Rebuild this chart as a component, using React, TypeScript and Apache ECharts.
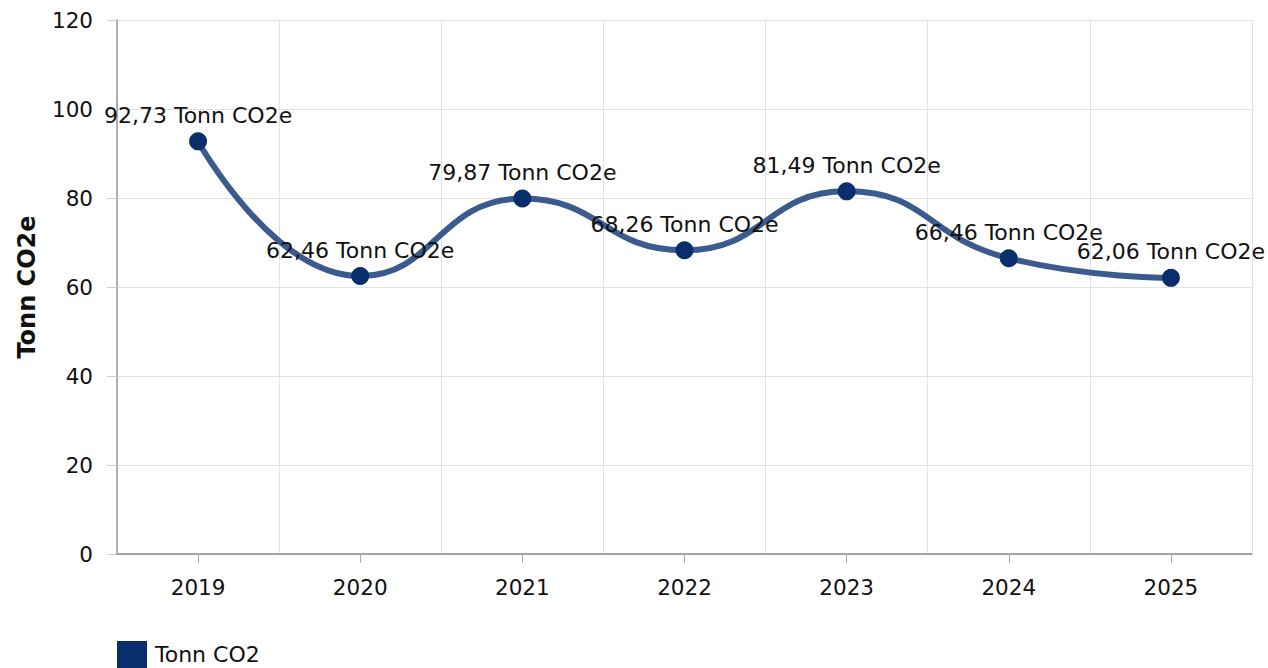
import React, { useEffect, useRef } from "react";
import * as echarts from "echarts";

const years = ["2019", "2020", "2021", "2022", "2023", "2024", "2025"];
const emissions = [92.73, 62.46, 79.87, 68.26, 81.49, 66.46, 62.06];
const seriesName = "Tonn CO2";
const unit = "Tonn CO2e";
const yTicks = { min: 0, max: 120, interval: 20 };

const FONT = "DejaVu Sans, Verdana, sans-serif";

export default function App() {
  const ref = useRef<HTMLDivElement>(null);
  useEffect(() => {
    if (!ref.current) return;
    const chart = echarts.init(ref.current, undefined, { renderer: "svg" });
    chart.setOption({
      animation: false,
      textStyle: { fontFamily: FONT },
      grid: {
        left: 117,
        right: 16,
        top: 20,
        bottom: 114,
        containLabel: false,
        outerBoundsMode: "none",
      },
      legend: {
        left: 117,
        top: 641,
        itemWidth: 30,
        itemHeight: 27,
        itemGap: 10,
        padding: 0,
        icon: "rect",
        data: [{ name: seriesName, icon: "rect", itemStyle: { color: "#0a2d6b" } }],
        textStyle: { fontSize: 22, color: "#111", fontFamily: FONT, padding: [0, 0, 0, 3] },
      },
      xAxis: {
        type: "category",
        data: years,
        boundaryGap: true,
        axisLine: { show: true, lineStyle: { color: "#8a8a8a", width: 1.5 } },
        axisTick: { show: true, alignWithLabel: true, length: 9, lineStyle: { color: "#aaa" } },
        axisLabel: { fontSize: 21.5, color: "#111", margin: 22, fontFamily: FONT },
        splitLine: { show: true, lineStyle: { color: "#e2e2e2", width: 1 } },
      },
      yAxis: {
        type: "value",
        min: yTicks.min,
        max: yTicks.max,
        interval: yTicks.interval,
        name: unit,
        nameLocation: "middle",
        nameGap: 78,
        nameTextStyle: { fontSize: 24, fontWeight: "bold", color: "#111", fontFamily: FONT },
        axisLine: { show: true, lineStyle: { color: "#999", width: 1.5 } },
        axisTick: { show: true, length: 10, lineStyle: { color: "#ccc" } },
        axisLabel: { fontSize: 21.5, color: "#111", margin: 24, fontFamily: FONT },
        splitLine: { show: true, lineStyle: { color: "#e2e2e2", width: 1 } },
      },
      series: [
        {
          name: seriesName,
          type: "line",
          data: emissions,
          smooth: 0.5,
          symbol: "circle",
          symbolSize: 18,
          lineStyle: { color: "#3b5a8e", width: 6 },
          itemStyle: { color: "#0a2d6b" },
          label: {
            show: true,
            position: "top",
            distance: 6,
            fontSize: 22,
            color: "#111",
            fontFamily: FONT,
            formatter: (p: any) => p.value.toFixed(2).replace(".", ",") + " " + unit,
          },
        },
      ],
    });
    return () => chart.dispose();
  }, []);
  return (
    <div
      ref={ref}
      style={{ position: "fixed", left: 0, top: 0, width: 1268, height: 668, background: "#fff" }}
    />
  );
}
